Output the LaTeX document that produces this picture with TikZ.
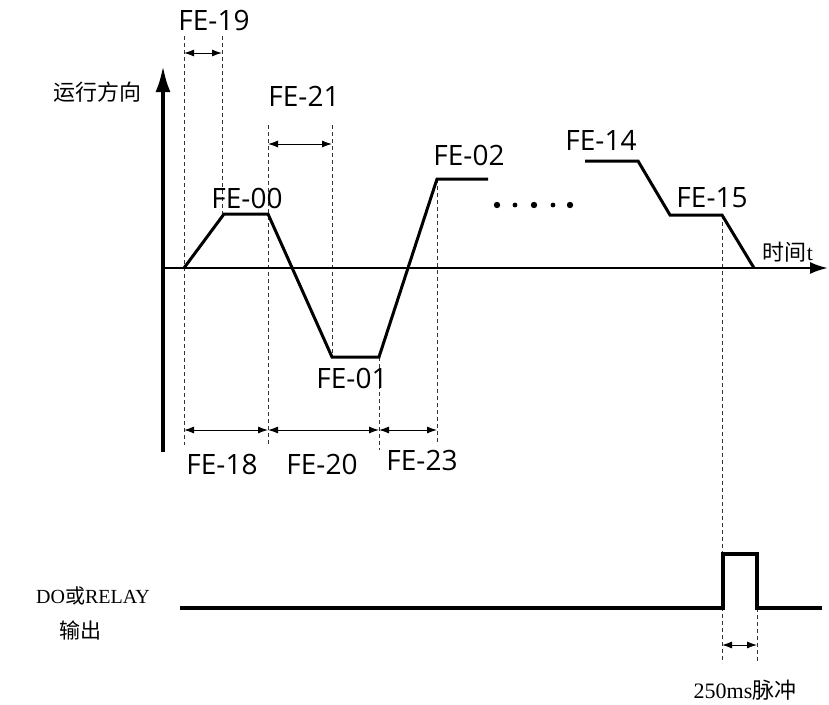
\documentclass[tikz,border=0pt]{standalone}
\usepackage{fontspec}
\setmainfont{Liberation Serif}
\newfontfamily\lab{Open Sans}
\newfontfamily\cjk{Noto Sans CJK SC}
\usetikzlibrary{arrows.meta}
\begin{document}
\begin{tikzpicture}[x=1pt,y=-1pt,
  fe/.style={font=\lab\fontsize{28}{30}\selectfont, inner sep=0pt},
  cn/.style={font=\cjk\fontsize{22}{24}\selectfont, inner sep=0pt},
  sr/.style={font=\fontsize{20}{22}\selectfont, inner sep=0pt},
  guide/.style={dashed, line width=0.8pt, dash pattern=on 4pt off 3pt, black!80},
  dim/.style={line width=1pt, {Latex[length=10pt,width=7pt]}-{Latex[length=10pt,width=7pt]}},
  curve/.style={line width=3pt, line join=miter},
  axis/.style={line width=2.5pt, -{Latex[length=26pt,width=14pt]}}]
\useasboundingbox (0,0) rectangle (829,704);
% key points
\coordinate (o) at (163,268);
\coordinate (p0) at (184,268);
\coordinate (p1) at (224,214);
\coordinate (p2) at (268,214);
\coordinate (p3) at (332,357);
\coordinate (p4) at (379,357);
\coordinate (p5) at (437,179);
\coordinate (p6) at (488,179);
\coordinate (q0) at (585,161);
\coordinate (q1) at (638,161);
\coordinate (q2) at (670,215);
\coordinate (q3) at (722,215);
\coordinate (q4) at (754,268);
% guides
\draw[guide] (184,36) -- (184,445);
\draw[guide] (222,36) -- (222,214);
\draw[guide] (268,125) -- (268,445);
\draw[guide] (332,125) -- (332,357);
\draw[guide] (379,357) -- (379,450);
\draw[guide] (437,179) -- (437,445);
\draw[guide] (722,215) -- (722,663);
\draw[guide] (757,608) -- (757,663);
% axes
\draw[axis, line width=3.5pt, -{Latex[length=26pt,width=15pt]}] (163,452) -- (163,66);
\draw[axis, -{Latex[length=18pt,width=12pt]}] (163,268) -- (828,268);
% curve
\draw[curve] (p0) -- (p1) -- (p2) -- (p3) -- (p4) -- (p5) -- (p6);
\draw[curve] (q0) -- (q1) -- (q2) -- (q3) -- (q4);
\foreach \x/\r in {497/3.2,515/2.4,534/3.2,553/2.4,570/3.2}
  \fill (\x,205) circle (\r);
% dimension arrows
\draw[dim] (184,53) -- (222,53);
\draw[dim] (268,144) -- (332,144);
\draw[dim] (184,430) -- (268,430);
\draw[dim] (268,430) -- (379,430);
\draw[dim] (379,430) -- (437,430);
\draw[dim] (722,645) -- (757,645);
% labels
\node[fe] (l19) at (214,20) {FE-19};
\node[fe] (l21) at (304,96) {FE-21};
\node[fe] (l00) at (247,198) {FE-00};
\node[fe] (l01) at (352,378) {FE-01};
\node[fe] (l02) at (469,155) {FE-02};
\node[fe] (l14) at (601,140) {FE-14};
\node[fe] (l15) at (712,198) {FE-15};
\node[fe] (l18) at (222,464) {FE-18};
\node[fe] (l20) at (322,464) {FE-20};
\node[fe] (l23) at (422,460) {FE-23};
\node[cn] (ydir) at (97,92) {运行方向};
\node[cn] (tlab) at (788,252) {时间\fontspec{Liberation Serif}t};
\node[sr] (do) at (93,596) {DO\cjk 或\rmfamily RELAY};
\node[cn, font=\cjk\fontsize{21}{23}\selectfont] (out) at (80,630) {输出};
\node[sr, font=\fontsize{22}{24}\selectfont] (pl) at (745,690) {250ms\cjk 脉冲};
% pulse
\draw[line width=3.5pt, line join=miter] (180,608) -- (723,608) -- (723,554) -- (757,554) -- (757,608) -- (822,608);
\end{tikzpicture}
\end{document}
